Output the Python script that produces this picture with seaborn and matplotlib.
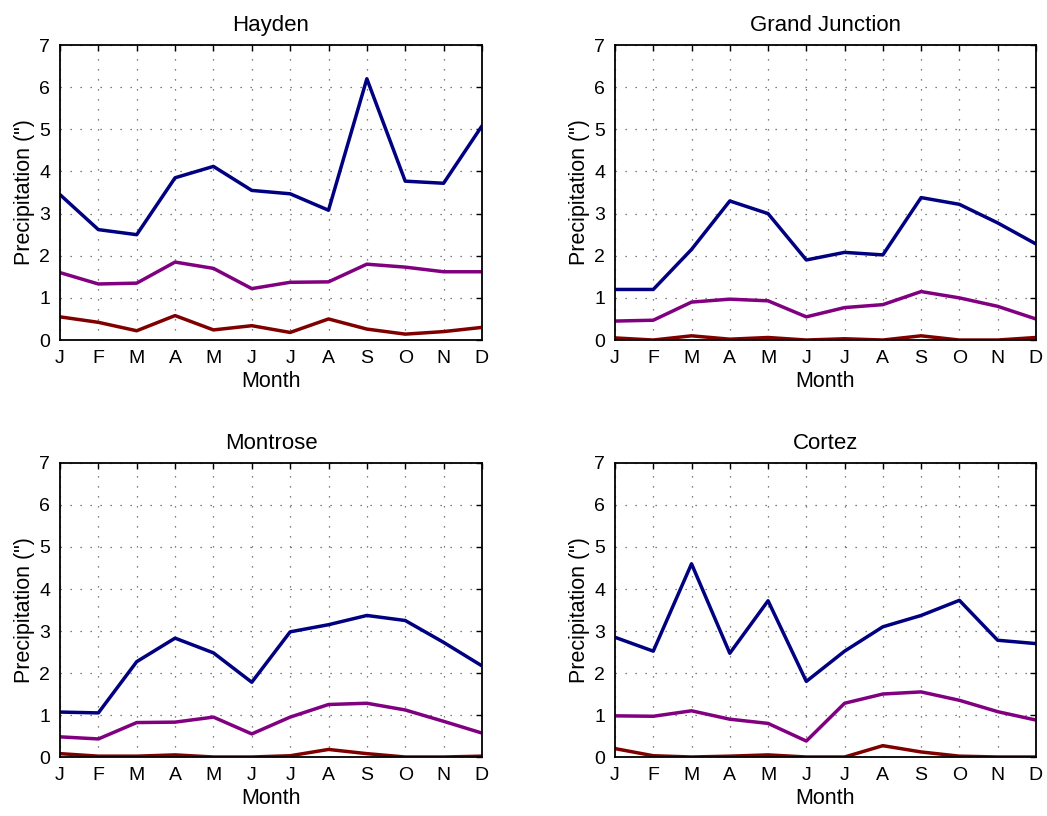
import numpy as np
import matplotlib
matplotlib.use("Agg")
import matplotlib.pyplot as plt
import pandas as pd
import seaborn as sns

# 月份和各站数据
months = ["J", "F", "M", "A", "M", "J", "J", "A", "S", "O", "N", "D"]
stations = ["Hayden", "Grand Junction", "Montrose", "Cortez"]

hayden_high = [3.45, 2.62, 2.50, 3.85, 4.12, 3.55, 3.47, 3.08, 6.20, 3.77, 3.72, 5.08]
hayden_mid = [1.60, 1.33, 1.35, 1.85, 1.70, 1.22, 1.37, 1.38, 1.80, 1.73, 1.62, 1.62]
hayden_low = [0.55, 0.42, 0.22, 0.58, 0.24, 0.34, 0.18, 0.50, 0.26, 0.14, 0.20, 0.30]

gj_high = [1.20, 1.20, 2.15, 3.30, 3.00, 1.90, 2.08, 2.02, 3.38, 3.22, 2.78, 2.28]
gj_mid = [0.45, 0.47, 0.90, 0.97, 0.93, 0.55, 0.77, 0.84, 1.15, 1.00, 0.80, 0.50]
gj_low = [0.05, 0.00, 0.10, 0.02, 0.06, 0.00, 0.03, 0.00, 0.10, 0.00, 0.00, 0.06]

montrose_high = [1.07, 1.05, 2.27, 2.83, 2.48, 1.78, 2.98, 3.15, 3.37, 3.25, 2.73, 2.17]
montrose_mid = [0.48, 0.43, 0.82, 0.83, 0.95, 0.55, 0.95, 1.25, 1.28, 1.12, 0.85, 0.57]
montrose_low = [0.08, 0.02, 0.02, 0.05, 0.00, 0.00, 0.03, 0.18, 0.08, 0.00, 0.00, 0.02]

cortez_high = [2.85, 2.52, 4.60, 2.47, 3.72, 1.80, 2.52, 3.10, 3.37, 3.73, 2.78, 2.70]
cortez_mid = [0.98, 0.97, 1.10, 0.90, 0.80, 0.38, 1.28, 1.50, 1.55, 1.35, 1.08, 0.88]
cortez_low = [0.20, 0.03, 0.00, 0.02, 0.05, 0.00, 0.00, 0.27, 0.12, 0.02, 0.00, 0.00]

all_data = [(hayden_high, hayden_mid, hayden_low),
            (gj_high, gj_mid, gj_low),
            (montrose_high, montrose_mid, montrose_low),
            (cortez_high, cortez_mid, cortez_low)]

palette = {"high": "#000080", "mid": "#800080", "low": "#800000"}

sns.set_style("white")
plt.rcParams["font.family"] = ["Liberation Sans", "DejaVu Sans"]
plt.rcParams["text.color"] = "black"
plt.rcParams["axes.labelcolor"] = "black"
plt.rcParams["xtick.color"] = "black"
plt.rcParams["ytick.color"] = "black"

fig = plt.figure(figsize=(10.47, 8.16), dpi=100)
# 每个子图的位置（图上量出来的）
pos = [[0.0573, 0.5833, 0.403, 0.3615],
       [0.5874, 0.5833, 0.402, 0.3615],
       [0.0573, 0.0723, 0.403, 0.3603],
       [0.5874, 0.0723, 0.402, 0.3603]]

x = np.arange(12)
for k in range(4):
    high, mid, low = all_data[k]
    df = pd.DataFrame({"m": np.tile(x, 3),
                       "p": high + mid + low,
                       "s": ["high"] * 12 + ["mid"] * 12 + ["low"] * 12})
    ax = fig.add_axes(pos[k])
    g = sns.lineplot(data=df, x="m", y="p", hue="s", palette=palette,
                     linewidth=2.5, legend=False, ax=ax)
    g.set_xlim(0, 11)
    g.set_ylim(0, 7)
    g.set_xticks(x)
    g.set_xticklabels(months)
    g.set_yticks(range(8))
    g.grid(True, linestyle=(0, (1, 7)), color="#555555", linewidth=0.9)
    g.tick_params(direction="in", length=4, width=1, top=True, right=True,
                  labelsize=14, pad=7)
    for sp in g.spines.values():
        sp.set_linewidth(1.3)
        sp.set_color("black")
    g.set_xlabel("Month", fontsize=15.5, labelpad=3)
    g.set_ylabel('Precipitation (")', fontsize=15.5, labelpad=3)
    g.set_title(stations[k], fontsize=16, pad=10)

plt.savefig("out.png", dpi=100)
